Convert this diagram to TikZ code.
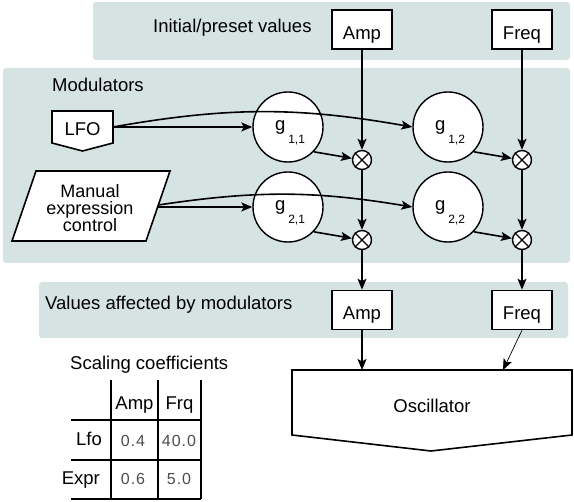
\documentclass[tikz,border=0pt]{standalone}
\usepackage{fontspec}
\setmainfont{Liberation Sans}
\usetikzlibrary{arrows.meta}
\definecolor{band}{RGB}{214,227,227}
\newcommand\gsubscr[1]{\hspace*{4pt}g\kern3pt\smash{\raisebox{-13pt}{\fontsize{12}{12}\selectfont #1}}}
\begin{document}
\begin{tikzpicture}[x=1pt,y=-1pt,
  every node/.style={font=\fontsize{18.5}{16}\selectfont, inner sep=0pt},
  lw/.style={line width=1.6pt},
  arr/.style={lw,-{Stealth[length=11pt,width=9pt,inset=2.5pt]}},
  thinarr/.style={line width=0.7pt,-{Stealth[length=11pt,width=9pt,inset=2.5pt]}},
  bandbox/.style={fill=band, rounded corners=3pt},
  valbox/.style={draw,lw,fill=white,minimum width=60pt,minimum height=39pt,text height=19.6pt,text depth=0pt},
  gnode/.style={draw,line width=1.4pt,circle,fill=white,minimum size=70pt},
  mult/.style={draw,line width=1.4pt,circle,fill=white,minimum size=19pt},
  num/.style={font=\fontsize{16}{16}\selectfont\addfontfeature{LetterSpace=6}, text=black!70},
]
\useasboundingbox (0,0) rectangle (574,502);
% bands
\fill[bandbox] (93,2) rectangle (570,60);
\fill[bandbox] (3,68) rectangle (570,263);
\fill[bandbox] (39,282) rectangle (568,338);
% band titles
\node[anchor=base west] (tInit) at (153,32.3) {Initial/preset values};
\node[anchor=base west] (tMod) at (52,91.5) {Modulators};
\node[anchor=base west] (tVal) at (45,310) {Values affected by modulators};
\node[anchor=base west] (tScale) at (70,370) {Scaling coefficients};
% value boxes
\node[valbox] (ampT) at (362,29.5) {Amp};
\node[valbox] (freqT) at (522,29.5) {Freq};
\node[valbox] (ampB) at (362,310) {Amp};
\node[valbox] (freqB) at (522,310) {Freq};
% LFO
\draw[lw,fill=white] (52,111) -- (113,111) -- (113,143) -- (82.5,151) -- (52,143) -- cycle;
\node[anchor=base] (lfo) at (82.5,136) {LFO};
\coordinate (lfoR) at (113,127);
% Manual expression control
\draw[lw,fill=white] (36,171) -- (170,171) -- (146,241) -- (12,241) -- cycle;
\node[align=center,font=\fontsize{18}{16.5}\selectfont] (manual) at (90,208.3) {Manual\\expression\\control};
\coordinate (manR) at (157.7,207);
\coordinate (manC) at (158.4,205);
% gain nodes
\node[gnode] (g11) at (288,127) {\gsubscr{1,1}};
\node[gnode] (g12) at (448,127) {\gsubscr{1,2}};
\node[gnode] (g21) at (288,207) {\gsubscr{2,1}};
\node[gnode] (g22) at (448,207) {\gsubscr{2,2}};
% multipliers
\node[mult] (m11) at (362,160) {};
\node[mult] (m12) at (522,160) {};
\node[mult] (m21) at (362,240) {};
\node[mult] (m22) at (522,240) {};
\foreach \m in {m11,m12,m21,m22}
  \draw[line width=1.4pt] (\m.north west) -- (\m.south east) (\m.north east) -- (\m.south west);
% oscillator
\draw[lw,fill=white] (292,370) -- (572,370) -- (572,435) -- (431,451) -- (292,435) -- cycle;
\node[anchor=base] (osc) at (432,412.5) {Oscillator};
\coordinate (oscA) at (362,370);
\coordinate (oscF) at (503,370);
% vertical flows
\draw[arr] (ampT) -- (m11);
\draw[arr] (m11) -- (m21);
\draw[arr] (m21) -- (ampB);
\draw[arr] (ampB) -- (oscA);
\draw[arr] (freqT) -- (m12);
\draw[arr] (m12) -- (m22);
\draw[arr] (m22) -- (freqB);
\draw[thinarr] (freqB.south) -- (oscF);
% modulator connections
\draw[arr] (lfoR) -- (g11);
\draw[arr] (lfoR) to[bend left=10] (g12.west);
\draw[arr] (manR) -- (g21);
\draw[arr] (manC) to[bend left=9] (g22.west);
\draw[arr] (g11.-44) -- (m11);
\draw[arr] (g12.-44) -- (m12);
\draw[arr] (g21.-44) -- (m21);
\draw[arr] (g22.-44) -- (m22);
% table
\draw[lw] (111,380) -- (111,499) (158,380) -- (158,499) (201,380) -- (201,499)
  (71,420) -- (201,420) (71,460) -- (201,460) (71,499) -- (201,499);
\node[anchor=base] (hAmp) at (134.5,410) {Amp};
\node[anchor=base] (hFrq) at (179.5,410) {Frq};
\node[anchor=base east] (rLfo) at (102,446) {Lfo};
\node[anchor=base east] (rExpr) at (100,485) {Expr};
\node[num,anchor=base] (v11) at (133,446.5) {0.4};
\node[num,anchor=base] (v12) at (179,446.5) {40.0};
\node[num,anchor=base] (v21) at (133,485) {0.6};
\node[num,anchor=base] (v22) at (179,485) {5.0};
\end{tikzpicture}
\end{document}
